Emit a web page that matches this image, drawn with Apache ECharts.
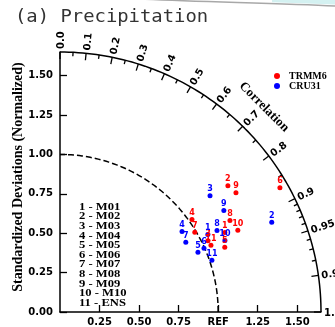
<!DOCTYPE html>
<html>
<head>
<meta charset="utf-8">
<script src="https://cdn.jsdelivr.net/npm/echarts@6/dist/echarts.min.js"></script>
<style>
html,body{margin:0;padding:0;background:#ffffff;}
#chart{width:335px;height:327px;}
</style>
</head>
<body>
<div id="chart"></div>
<script>
// Taylor diagram: normalized standard deviation vs. correlation
const seriesNames = ['TRMM6', 'CRU31'];
const seriesColors = ['#ff0000', '#0000ff'];
const modelNames = ['M01', 'M02', 'M03', 'M04', 'M05', 'M06', 'M07', 'M08', 'M09', 'M10', 'ENS'];

const trmmStd  = [1.158, 1.330, 1.039, 1.020, 1.120, 1.598, 0.991, 1.221, 1.345, 1.238, 1.044];
const trmmCorr = [0.900, 0.798, 0.900, 0.818, 0.930, 0.870, 0.860, 0.880, 0.827, 0.908, 0.914];
const cruStd   = [1.056, 1.455, 1.202, 0.925, 0.951, 0.996, 0.910, 1.119, 1.220, 1.137, 1.015];
const cruCorr  = [0.885, 0.920, 0.789, 0.834, 0.917, 0.914, 0.874, 0.887, 0.849, 0.917, 0.946];

const stdMax = 1.65;
const refStd = 1.0;
const yTickValues = [0, 0.25, 0.5, 0.75, 1, 1.25, 1.5];
const yTickLabels = ['0.00', '0.25', '0.50', '0.75', '1.00', '1.25', '1.50'];
const xTickValues = [0.25, 0.5, 0.75, 1, 1.25, 1.5];
const xTickLabels = ['0.25', '0.50', '0.75', 'REF', '1.25', '1.50'];
const corrMajorValues = [0, 0.1, 0.2, 0.3, 0.4, 0.5, 0.6, 0.7, 0.8, 0.9, 0.95, 0.99, 1.0];
const corrMajorLabels = ['0.0', '0.1', '0.2', '0.3', '0.4', '0.5', '0.6', '0.7', '0.8', '0.9', '0.95', '0.99', '1.0'];
const corrMinorValues = [0.05, 0.15, 0.25, 0.35, 0.45, 0.55, 0.65, 0.75, 0.85,
                         0.91, 0.92, 0.93, 0.94, 0.96, 0.97, 0.98];

const labelFont = 'DejaVu Sans';
const serifFont = 'Liberation Serif';

// polar (std, corr) -> cartesian (x, y)
function toXY(std, corr) {
  const s = Math.sqrt(Math.max(0, 1 - corr * corr));
  return [std * corr, std * s];
}
function arcPoints(r) {
  const pts = [];
  for (let a = 0; a <= 90; a += 1) {
    const t = a * Math.PI / 180;
    pts.push([r * Math.cos(t), r * Math.sin(t)]);
  }
  return pts;
}
function labelOf(values, labels) {
  return function (v) {
    for (let i = 0; i < values.length; i++) {
      if (Math.abs(values[i] - v) < 1e-6) return labels[i];
    }
    return '';
  };
}

const chart = echarts.init(document.getElementById('chart'), null, { renderer: 'canvas' });

const corrTickData = corrMajorValues.map((c, i) => ({ value: [c, 1], name: corrMajorLabels[i] }))
  .concat(corrMinorValues.map(c => ({ value: [c, 0], name: '' })));

function renderCorrTick(params, api) {
  const c = api.value(0);
  const major = api.value(1) === 1;
  const t = Math.acos(c);
  const outer = api.coord([stdMax * Math.cos(t), stdMax * Math.sin(t)]);
  const len = major ? 7 : 4;
  const dx = Math.cos(t), dy = -Math.sin(t);
  const children = [{
    type: 'line',
    shape: { x1: outer[0], y1: outer[1], x2: outer[0] - dx * len, y2: outer[1] - dy * len },
    style: { stroke: '#000', lineWidth: 1.3 }
  }];
  const name = corrTickData[params.dataIndex].name;
  if (major && name) {
    children.push({
      type: 'text',
      x: outer[0], y: outer[1],
      rotation: t,
      style: {
        text: name, x: 3, y: 1,
        fill: '#000',
        fontFamily: labelFont, fontWeight: 'bold', fontSize: 10,
        align: 'left', verticalAlign: 'middle'
      }
    });
  }
  return { type: 'group', children: children };
}

function pointSeries(idx, stds, corrs) {
  return {
    name: seriesNames[idx],
    type: 'scatter',
    symbol: 'circle',
    symbolSize: 5,
    itemStyle: { color: seriesColors[idx], opacity: 1 },
    label: {
      show: true,
      position: 'top',
      distance: 0,
      formatter: p => String(p.dataIndex + 1),
      color: seriesColors[idx],
      fontFamily: labelFont, fontWeight: 'bold', fontSize: 8
    },
    emphasis: { disabled: true },
    z: 5,
    data: stds.map((s, i) => toXY(s, corrs[i]))
  };
}

const keyLines = modelNames.map((m, i) => ({
  type: 'text',
  x: 79, y: 207 + i * 9.6,
  scaleX: 1.2,
  style: {
    text: (i + 1) + ' - ' + m,
    fill: '#000',
    fontFamily: serifFont, fontWeight: 'bold', fontSize: 10.5,
    align: 'left', verticalAlign: 'middle'
  }
}));

const option = {
  backgroundColor: '#ffffff',
  animation: false,
  grid: { left: 60, top: 52, width: 261, height: 261, containLabel: false },
  xAxis: {
    type: 'value', min: 0, max: stdMax,
    axisLine: { show: true, lineStyle: { color: '#000', width: 1.5 } },
    axisTick: { show: true, inside: true, length: 7, customValues: xTickValues, lineStyle: { color: '#000', width: 1.3 } },
    axisLabel: {
      show: true, customValues: xTickValues, margin: 5,
      formatter: labelOf(xTickValues, xTickLabels),
      color: '#000', fontFamily: labelFont, fontWeight: 'bold', fontSize: 10
    },
    splitLine: { show: false }
  },
  yAxis: {
    type: 'value', min: 0, max: stdMax,
    axisLine: { show: true, lineStyle: { color: '#000', width: 1.5 } },
    axisTick: { show: true, inside: true, length: 7, customValues: yTickValues, lineStyle: { color: '#000', width: 1.3 } },
    axisLabel: {
      show: true, customValues: yTickValues, margin: 7,
      formatter: labelOf(yTickValues, yTickLabels),
      color: '#000', fontFamily: labelFont, fontWeight: 'bold', fontSize: 10
    },
    splitLine: { show: false }
  },
  legend: {
    data: seriesNames,
    orient: 'vertical',
    left: 269, top: 66,
    icon: 'circle',
    itemWidth: 6, itemHeight: 6, itemGap: 0,
    selectedMode: false,
    textStyle: {
      color: '#000', fontFamily: serifFont, fontWeight: 'bold', fontSize: 10,
      lineHeight: 10, padding: [0, 0, 0, 4]
    }
  },
  graphic: [
    {
      type: 'bezierCurve',
      shape: { x1: 140, y1: -1, cpx1: 200, cpy1: 2, cpx2: 280, cpy2: 3, x2: 336, y2: 6 },
      style: { stroke: '#a8a8a8', lineWidth: 1.5, fill: null }
    },
    {
      type: 'polygon',
      shape: { points: [[272, 0], [336, 0], [336, 4.5], [300, 3.2], [272, 2.2]] },
      style: { fill: '#d4f1f1' }
    },
    {
      type: 'text',
      x: 15, y: 18,
      scaleX: 1.11,
      style: {
        text: '(a) Precipitation',
        fill: '#333333',
        fontFamily: 'DejaVu Sans Mono', fontSize: 17,
        align: 'left', verticalAlign: 'middle'
      }
    },
    {
      type: 'text',
      x: 18, y: 177,
      rotation: Math.PI / 2,
      style: {
        text: 'Standardized Deviations (Normalized)',
        fill: '#000',
        fontFamily: serifFont, fontWeight: 'bold', fontSize: 14,
        align: 'center', verticalAlign: 'middle'
      }
    },
    {
      type: 'text',
      x: 264, y: 107,
      rotation: -Math.PI / 4,
      style: {
        text: 'Correlation',
        fill: '#000',
        fontFamily: serifFont, fontWeight: 'bold', fontSize: 13,
        align: 'center', verticalAlign: 'middle'
      }
    }
  ].concat(keyLines),
  series: [
    {
      name: 'outer', type: 'line', data: arcPoints(stdMax), showSymbol: false, clip: false,
      silent: true, lineStyle: { color: '#000', width: 1.5 }, z: 2
    },
    {
      name: 'reference', type: 'line', data: arcPoints(refStd), showSymbol: false, clip: false,
      silent: true, lineStyle: { color: '#000', width: 1.5, type: [6, 3] }, z: 2
    },
    {
      name: 'corrTicks', type: 'custom', renderItem: renderCorrTick, data: corrTickData,
      clip: false, silent: true, z: 3
    },
    pointSeries(0, trmmStd, trmmCorr),
    pointSeries(1, cruStd, cruCorr)
  ]
};

chart.setOption(option);
</script>
</body>
</html>
